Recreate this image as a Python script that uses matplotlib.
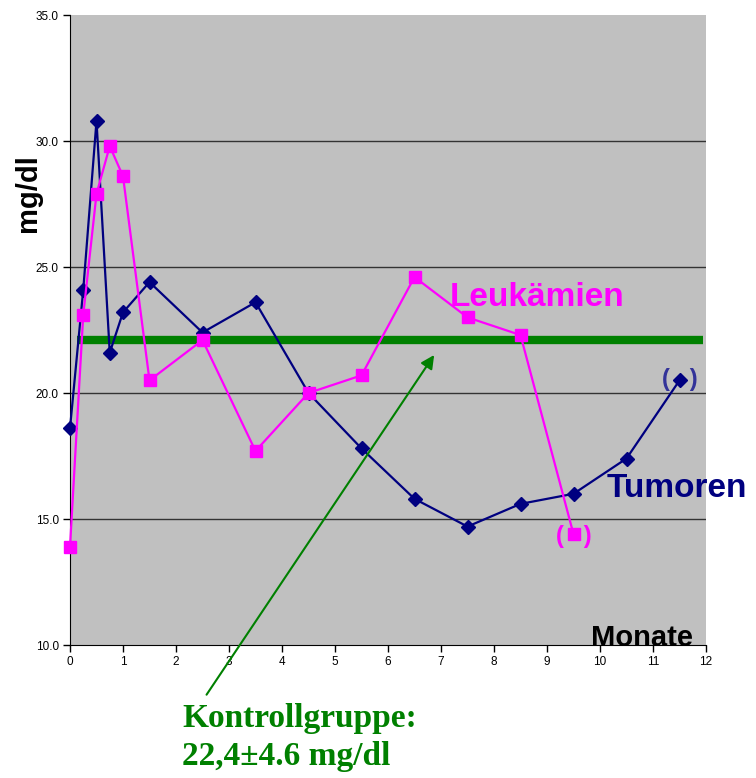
import matplotlib
matplotlib.use('Agg')
import matplotlib.pyplot as plt
import numpy as np

plt.rcParams['font.family'] = ['Liberation Sans', 'DejaVu Sans']

# months of follow-up
months = [0, 0.25, 0.5, 0.75, 1.0, 1.5, 2.5, 3.5, 4.5, 5.5, 6.5, 7.5, 8.5, 9.5, 10.5, 11.5]
tumoren = [18.6, 24.1, 30.8, 21.6, 23.2, 24.4, 22.4, 23.6, 20.0, 17.8, 15.8, 14.7, 15.6, 16.0, 17.4, 20.5]
leuk_months = [0, 0.25, 0.5, 0.75, 1.0, 1.5, 2.5, 3.5, 4.5, 5.5, 6.5, 7.5, 8.5, 9.5]
leukaemien = [13.9, 23.1, 27.9, 29.8, 28.6, 20.5, 22.1, 17.7, 20.0, 20.7, 24.6, 23.0, 22.3, 14.4]

kontrolle = 22.1
x_ticks = list(range(0, 13))
y_ticks = [10.0, 15.0, 20.0, 25.0, 30.0, 35.0]

navy = '#000080'
magenta = '#ff00ff'
green = '#008000'

fig = plt.figure(figsize=(7.56, 7.78), dpi=100)
ax = fig.add_axes([70/756, 133/778, 636/756, 630/778])
ax.set_facecolor('#c0c0c0')
ax.set_xlim(0, 12)
ax.set_ylim(10, 35)

# horizontal grid
for yv in y_ticks[1:-1]:
    ax.axhline(yv, color='#333333', lw=1, zorder=1)

ax.plot(months, tumoren, color=navy, lw=1.6, marker='D', markersize=7,
        markerfacecolor=navy, markeredgecolor=navy, zorder=3, clip_on=False)
ax.plot(leuk_months, leukaemien, color=magenta, lw=1.6, marker='s', markersize=8,
        markerfacecolor=magenta, markeredgecolor=magenta, zorder=3, clip_on=False)

# control group level
ax.plot([0.13, 11.94], [kontrolle, kontrolle], color=green, lw=6, solid_capstyle='butt', zorder=2)

ax.spines['top'].set_visible(False)
ax.spines['right'].set_visible(False)
ax.spines['left'].set_color('black')
ax.spines['bottom'].set_color('black')

tick_font = ['Liberation Sans Narrow', 'Liberation Sans', 'DejaVu Sans']
ax.set_xticks(x_ticks)
ax.set_xticklabels([str(t) for t in x_ticks], fontsize=8.5, family=tick_font)
ax.set_yticks(y_ticks)
ax.set_yticklabels(['%.1f' % t for t in y_ticks], fontsize=8.5, family=tick_font)
ax.tick_params(direction='out', length=5, width=1, pad=3)

fig.text(28/756, 1 - 193/778, 'mg/dl', rotation=90, fontsize=21, fontweight='bold',
         ha='center', va='center')
ax.text(11.75, 9.95, 'Monate', fontsize=21, fontweight='bold', ha='right', va='baseline')
ax.text(7.17, 23.45, 'Leukämien', fontsize=24, fontweight='bold', color=magenta,
        ha='left', va='baseline')
ax.text(10.13, 16.2, 'Tumoren', fontsize=24, fontweight='bold', color=navy,
        ha='left', va='center', clip_on=False)

# brackets around uncertain last values
ax.text(11.5, tumoren[-1] + 0.05, '(   )', fontsize=17, fontweight='bold', color='#333399',
        ha='center', va='center')
ax.text(9.5, leukaemien[-1] - 0.1, '(   )', fontsize=17, fontweight='bold', color=magenta,
        ha='center', va='center')

ax.annotate('', xy=(6.9, 21.6), xytext=(205/756, 1 - 697/778),
            xycoords='data', textcoords='figure fraction',
            arrowprops=dict(arrowstyle='-|>', color=green, lw=1.5, mutation_scale=20),
            annotation_clip=False)

serif = ['Liberation Serif', 'DejaVu Serif']
fig.text(182/756, 1 - 718/778, 'Kontrollgruppe:', fontsize=24, fontweight='bold',
         color=green, family=serif, ha='left', va='center')
fig.text(182/756, 1 - 757/778, '22,4±4.6 mg/dl', fontsize=24, fontweight='bold',
         color=green, family=serif, ha='left', va='center')

fig.savefig('out.png', dpi=100)
